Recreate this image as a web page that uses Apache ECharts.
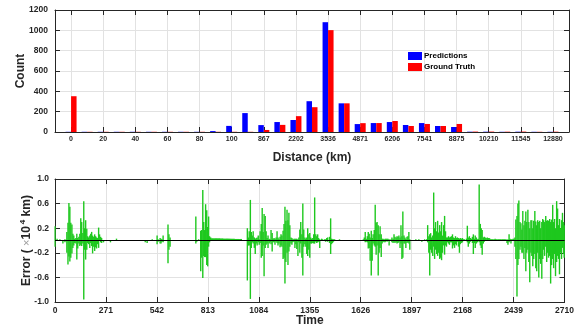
<!DOCTYPE html>
<html>
<head>
<meta charset="utf-8">
<script src="https://cdn.jsdelivr.net/npm/echarts@6/dist/echarts.min.js"></script>
<style>
  html, body { margin: 0; padding: 0; background: #fff; }
  #chart { width: 577px; height: 328px; }
</style>
</head>
<body>
<div id="chart"></div>
<script>
// Distance histogram: bins, every other one labelled
const distanceBins = ['0','','20','','40','','60','','80','','100','','867','','2202','','3536','','4871','','6206','','7541','','8875','','10210','','11545','','12880'];
const predictions = [2,2,2,2,2,2,2,2,2,9,60,186,68,98,118,303,1080,282,78,88,98,69,88,59,49,3,3,2,3,2,2];
const groundTruth = [352,2,2,2,2,2,2,2,2,2,2,2,20,70,156,244,1002,282,87,88,108,59,79,59,79,4,4,3,4,2,3];
const countTicks = { min: 0, max: 1200, step: 200 };

// Error trace over time (x10^4 km): [time, positive swing, negative swing]
const timeTicks = { min: 0, max: 2710, step: 271 };
const errorTicks = { min: -1, max: 1, step: 0.4 };
const errorTrace = [
  [0,.23,-.10],[11,.03,0],[26,.02,0],[42,0,-.05],[53,.02,-.03],[63,.14,-.20],[69,.29,-.39],[74,.61,-.26],[79,.55,-.34],[84,.29,-.28],[90,.26,-.21],[95,.11,-.12],[100,.08,-.08],[105,.03,-.04],[111,.04,-.05],[116,.11,-.31],[121,.04,-.13],[127,.06,-.05],[132,.11,-.09],[137,.36,-.07],[142,.30,-.09],[148,.12,-.05],[153,.64,-.96],[158,.20,-.15],[163,.33,-.31],[169,.19,-.15],[174,.07,-.04],[179,.05,-.06],[185,.08,-.12],[190,.11,-.04],[195,.14,-.09],[200,.08,-.21],[206,.06,-.10],[211,.10,-.17],[216,.07,-.11],[221,.05,-.13],[227,.04,-.06],[232,.21,-.12],[237,.10,0],[243,.06,-.03],[248,.04,-.04],[258,0,-.03],[295,0,-.03],[327,.03,0],
  [480,0,-.03],[490,0,-.04],[517,.02,0],[543,.08,-.06],[548,.02,-.02],[559,.04,-.05],[564,.03,-.05],[569,.02,-.02],[575,.08,-.03],[601,.26,-.37],[606,.10,-.15],[612,.05,-.10],
  [749,.39,-.05],[754,0,-.02],[764,.02,0],[775,.16,-.50],[780,.17,-.28],[786,.82,-.61],[791,.30,-.25],[796,.17,-.27],[801,.59,-.27],[807,.49,-.40],[812,.22,-.42],[817,.39,-.10],[822,.07,-.03],[828,.05,0],
  [833,.035,0],[838,.035,0],[843,.035,0],[849,.035,0],[854,.035,0],[859,.035,0],[864,.035,0],[870,.035,0],[875,.035,0],[880,.033,0],[886,.033,0],[891,.033,0],[896,.03,0],[901,.03,0],[907,.03,0],[912,.03,0],[917,.03,0],[922,.03,0],[928,.03,0],[933,.028,0],[938,.028,0],[943,.028,0],[949,.028,0],[954,.028,0],[959,.025,0],[965,.025,0],[970,.025,0],[975,.025,0],[980,.025,0],[986,.025,0],[991,.025,0],
  [1023,.20,-.65],[1028,.05,-.08],[1033,.15,-.08],[1039,.66,-.95],[1044,.14,-.12],[1049,.08,-.03],[1054,.15,-.05],[1060,.05,-.12],[1065,.03,-.22],[1070,.04,-.05],[1075,.05,-.08],[1081,.08,-.03],[1086,.02,-.07],[1091,.15,-.04],[1097,.27,-.28],[1102,.53,-.25],[1107,.14,-.08],[1112,.43,-.58],[1118,.40,-.12],[1123,.15,-.07],[1128,.04,-.05],[1133,.08,-.12],[1139,.03,-.05],[1144,.02,-.03],[1149,.17,-.06],[1155,.12,-.18],[1160,.03,-.03],[1165,.04,-.03],[1170,.03,-.07],[1176,.05,-.02],[1181,.15,-.04],[1186,.05,-.08],[1191,.03,-.05],[1197,.06,-.11],[1202,.10,-.08],[1207,.08,-.10],[1213,.16,-.30],[1218,.27,-.28],[1223,.55,-.70],[1228,.32,-.35],[1234,.50,-.20],[1239,.33,-.40],[1244,.45,-.18],[1249,.25,-.10],[1255,.05,-.05],[1260,.04,-.07],[1265,.02,-.03],[1271,.03,-.02],[1276,.03,-.12],[1281,.03,-.06],[1286,.03,-.14],[1292,.02,-.25],[1297,.05,-.03],[1302,.18,-.20],[1307,.30,-.05],[1313,.10,-.28],[1318,.60,-.57],[1323,.18,-.10],[1329,.05,-.06],[1334,.03,-.10],[1339,.05,-.22],[1344,.20,-.25],[1350,.10,-.15],[1355,.12,-.28],
  [1360,.05,-.05],[1365,.03,-.05],[1371,.04,-.04],[1376,.10,-.05],[1381,.70,-.05],[1387,.10,-.02],[1392,.07,-.04],[1397,.10,-.03],[1402,.04,-.02],[1408,.02,-.12],[1418,.03,0],[1423,.02,0],[1434,.02,0],[1439,.02,-.02],[1445,.04,-.01],[1450,.05,-.02],[1460,.06,-.04],[1466,.36,-.22],[1471,.03,-.06],[1476,.02,-.04],[1481,.02,-.02],[1487,.02,0],[1513,.02,0],
  [1640,.02,0],[1645,.05,0],[1650,.14,-.03],[1655,.03,-.02],[1661,.07,-.03],[1666,.14,-.13],[1671,.11,-.12],[1676,.05,-.33],[1682,.16,-.57],[1687,.04,-.33],[1692,.10,-.05],[1698,.17,-.08],[1703,.58,-.10],[1708,.29,-.23],[1713,.30,-.08],[1719,.25,-.57],[1724,.10,-.20],[1729,.23,-.12],[1735,.10,-.27],[1740,.03,-.05],[1745,.03,-.02],[1750,.02,-.03],[1756,.03,-.03],[1761,.03,0],[1766,.03,-.02],[1771,.03,0],[1777,.02,-.08],[1787,.02,0],[1792,.05,-.03],[1798,.03,-.04],[1803,.10,-.02],[1808,.06,-.04],[1814,.05,-.03],[1819,.07,-.05],[1824,.06,-.04],[1829,.08,-.03],[1835,.05,-.12],[1840,.25,-.05],[1845,.07,-.30],[1850,.47,-.28],[1856,.08,-.05],[1861,.05,-.05],[1866,.03,-.12],[1872,.06,-.04],[1877,.07,-.03],[1882,.14,-.05],[1887,.02,-.15],
  [1919,.02,0],[1935,.02,0],[1951,0,-.02],[1966,.02,0],[1977,.02,0],
  [1982,.25,-.03],[1988,.07,-.20],[1993,.10,-.57],[1998,.12,-.15],[2003,.05,-.20],[2009,.08,-.25],[2014,.78,-.10],[2019,.20,-.30],[2024,.30,-.15],[2030,.15,-.22],[2035,.32,-.25],[2040,.13,-.20],[2046,.25,-.30],[2051,.15,-.28],[2056,.30,-.32],[2061,.08,-.20],[2067,.25,-.08],[2072,.40,-.23],[2077,.15,-.08],[2082,.05,-.10],[2088,.05,-.03],[2093,.07,-.05],[2098,.05,-.07],[2104,.06,-.03],[2109,.07,-.03],[2114,.10,-.13],[2119,.05,-.08],[2125,.04,-.12],[2130,.07,-.06],[2135,.04,-.08],[2140,.05,-.02],[2146,.04,-.10],[2151,.03,-.20],[2156,.04,-.06],[2162,.03,-.04],[2167,.04,-.03],[2172,.02,0],[2177,.02,0],[2188,.03,0],[2193,.24,-.03],[2198,.05,-.10],[2204,.07,-.05],[2209,.04,-.02],[2214,.03,0],[2220,.06,-.04],[2225,.10,-.22],[2230,.03,-.04],[2235,.08,-.12],[2241,.05,-.05],[2246,.02,-.03],[2251,.03,0],
  [2256,.91,-.03],[2262,.27,-.08],[2267,.20,-.12],[2272,.17,-.23],[2278,.05,-.05],[2283,.06,-.02],[2288,.05,0],[2293,.04,0],[2299,.05,0],[2304,.04,0],[2309,.04,0],[2314,.03,0],[2320,.02,0],[2325,.02,0],[2330,.02,0],[2336,.02,0],[2341,.03,0],[2346,.02,0],[2351,.02,0],[2357,.02,0],[2362,.02,0],[2367,.02,0],[2372,.02,0],[2378,.02,0],[2383,.02,0],[2388,.02,0],[2393,.02,0],[2399,.02,0],[2404,0,-.04],[2409,.02,-.07],[2415,.10,-.03],[2420,.03,0],[2425,.02,-.05],[2430,.02,0],[2436,.03,0],[2441,.03,0],[2446,.05,-.10],
  [2451,.34,-.30],[2457,.40,-.91],[2462,.60,-.40],[2467,.65,-.30],[2473,.30,-.15],[2478,.28,-.10],[2483,.18,-.20],[2488,.48,-.20],[2494,.25,-.30],[2499,.32,-.12],[2504,.47,-.50],[2509,.30,-.20],[2515,.50,-.15],[2520,.30,-.35],[2525,.20,-.68],[2531,.33,-.20],[2536,.33,-.25],[2541,.20,-.42],[2546,.32,-.30],[2552,.48,-.22],[2557,.31,-.45],[2562,.25,-.50],[2567,.33,-.20],[2573,.30,-.60],[2578,.32,-.30],[2583,.20,-.38],[2589,.30,-.62],[2594,.35,-.30],[2599,.33,-.15],[2604,.30,-.25],[2610,.40,-.10],[2615,.32,-.35],[2620,.33,-.20],[2625,.32,-.28],[2631,.35,-.25],[2636,.30,-.70],[2641,.34,-.40],[2647,.58,-.30],[2652,.30,-.45],[2657,.35,-.22],[2662,.20,-.58],[2668,.64,-.35],[2673,.52,-.25],[2678,.25,-.30],[2683,.35,-.55],[2689,.20,-.20],[2694,.33,-.30],[2699,.45,-.12],[2705,.30,-.22],[2708,.25,-.28]
];

const FONT = '"Liberation Sans", Arial, Helvetica, sans-serif';
const INK = '#262626';
const GRID = '#e2e2e2';

// Category axis padded by an empty slot on each side
const paddedBins = [''].concat(distanceBins, ['']);
const pad = (arr) => [null].concat(arr, [null]);
const isLabelled = (i) => paddedBins[i] !== '';

// Each time step contributes its upward and downward swing as one stem
const errorBars = [];
errorTrace.forEach(([t, hi, lo]) => {
  if (hi) errorBars.push([t, hi]);
  if (lo) errorBars.push([t, lo]);
});

const plain = (v) => String(v);
const frameLine = { show: true, onZero: false, lineStyle: { color: INK, width: 1 } };
const innerTick = { show: true, inside: true, length: 5, lineStyle: { color: INK, width: 1 } };

const chart = echarts.init(document.getElementById('chart'), null, { renderer: 'canvas' });
chart.setOption({
  animation: false,
  backgroundColor: '#fff',
  textStyle: { fontFamily: FONT },
  grid: [
    { left: 55, right: 8, top: 10, height: 122 },
    { left: 55, right: 8, top: 179, height: 123 }
  ],
  legend: {
    data: ['Predictions', 'Ground Truth'],
    orient: 'vertical',
    left: 408, top: 52,
    padding: 0,
    itemWidth: 14, itemHeight: 8, itemGap: 3,
    icon: 'rect',
    textStyle: { fontFamily: FONT, fontSize: 8, fontWeight: 'bold', color: '#000', padding: [0, 0, 0, -3] }
  },
  xAxis: [
    {
      gridIndex: 0, type: 'category', data: paddedBins, boundaryGap: false,
      axisLine: frameLine,
      axisTick: Object.assign({}, innerTick, { interval: isLabelled }),
      axisLabel: { interval: isLabelled, fontSize: 7, fontWeight: 'bold', color: INK, margin: 4, fontFamily: FONT },
      splitLine: { show: true, interval: isLabelled, lineStyle: { color: GRID } },
      name: 'Distance (km)', nameLocation: 'middle', nameGap: 20, nameMoveOverlap: false,
      nameTextStyle: { fontSize: 12, fontWeight: 'bold', color: INK, fontFamily: FONT }
    },
    {
      gridIndex: 0, type: 'category', position: 'top', data: paddedBins, boundaryGap: false,
      axisLine: frameLine,
      axisTick: Object.assign({}, innerTick, { interval: isLabelled }),
      axisLabel: { show: false }, splitLine: { show: false }
    },
    {
      gridIndex: 1, type: 'value', min: timeTicks.min, max: timeTicks.max, interval: timeTicks.step,
      axisLine: frameLine, axisTick: innerTick,
      axisLabel: { fontSize: 8.5, fontWeight: 'bold', color: INK, margin: 4, fontFamily: FONT, formatter: plain },
      splitLine: { show: true, lineStyle: { color: GRID } },
      name: 'Time', nameLocation: 'middle', nameGap: 13, nameMoveOverlap: false,
      nameTextStyle: { fontSize: 12, fontWeight: 'bold', color: INK, fontFamily: FONT }
    },
    {
      gridIndex: 1, type: 'value', position: 'top', min: timeTicks.min, max: timeTicks.max, interval: timeTicks.step,
      axisLine: frameLine, axisTick: innerTick, axisLabel: { show: false }, splitLine: { show: false }
    }
  ],
  yAxis: [
    {
      gridIndex: 0, type: 'value', min: countTicks.min, max: countTicks.max, interval: countTicks.step,
      axisLine: frameLine, axisTick: innerTick,
      axisLabel: { fontSize: 8.5, fontWeight: 'bold', color: INK, margin: 7, fontFamily: FONT, formatter: plain },
      splitLine: { show: true, lineStyle: { color: GRID } },
      name: 'Count', nameLocation: 'middle', nameGap: 28, nameRotate: 90, nameMoveOverlap: false,
      nameTextStyle: { fontSize: 12, fontWeight: 'bold', color: INK, fontFamily: FONT }
    },
    {
      gridIndex: 0, type: 'value', position: 'right', min: countTicks.min, max: countTicks.max, interval: countTicks.step,
      axisLine: frameLine, axisTick: innerTick, axisLabel: { show: false }, splitLine: { show: false }
    },
    {
      gridIndex: 1, type: 'value', min: errorTicks.min, max: errorTicks.max, interval: errorTicks.step,
      axisLine: frameLine, axisTick: innerTick,
      axisLabel: { fontSize: 8.5, fontWeight: 'bold', color: INK, margin: 6, fontFamily: FONT, formatter: (v) => v.toFixed(1) },
      splitLine: { show: true, lineStyle: { color: GRID } },
      name: '{b|Error (} {x|×}{b|10}{s|4}{b| km)}', nameLocation: 'middle', nameGap: 20, nameRotate: 90, nameMoveOverlap: false,
      nameTextStyle: {
        fontSize: 12, fontWeight: 'bold', color: INK, fontFamily: FONT,
        rich: {
          b: { fontSize: 12, fontWeight: 'bold', color: INK, fontFamily: FONT },
          x: { fontSize: 11, fontWeight: 'normal', color: '#9a9a9a', fontFamily: FONT },
          s: { fontSize: 8, fontWeight: 'bold', color: INK, fontFamily: FONT, padding: [0, 0, 8, 2] }
        }
      }
    },
    {
      gridIndex: 1, type: 'value', position: 'right', min: errorTicks.min, max: errorTicks.max, interval: errorTicks.step,
      axisLine: frameLine, axisTick: innerTick, axisLabel: { show: false }, splitLine: { show: false }
    }
  ],
  series: [
    {
      name: 'Predictions', type: 'bar', xAxisIndex: 0, yAxisIndex: 0,
      data: pad(predictions), barWidth: 5.5, barGap: '0%',
      itemStyle: { color: '#0000ff' }
    },
    {
      name: 'Ground Truth', type: 'bar', xAxisIndex: 0, yAxisIndex: 0,
      data: pad(groundTruth), barWidth: 5.5, barGap: '0%',
      itemStyle: { color: '#ff0000' }
    },
    {
      name: 'Error', type: 'bar', xAxisIndex: 2, yAxisIndex: 2,
      data: errorBars, barWidth: 1.4,
      itemStyle: { color: '#1ec81e' },
      markLine: {
        silent: true, symbol: 'none', animation: false,
        label: { show: false },
        lineStyle: { color: '#000', width: 1.2, type: 'solid' },
        data: [{ yAxis: 0 }]
      }
    }
  ]
});
</script>
</body>
</html>
